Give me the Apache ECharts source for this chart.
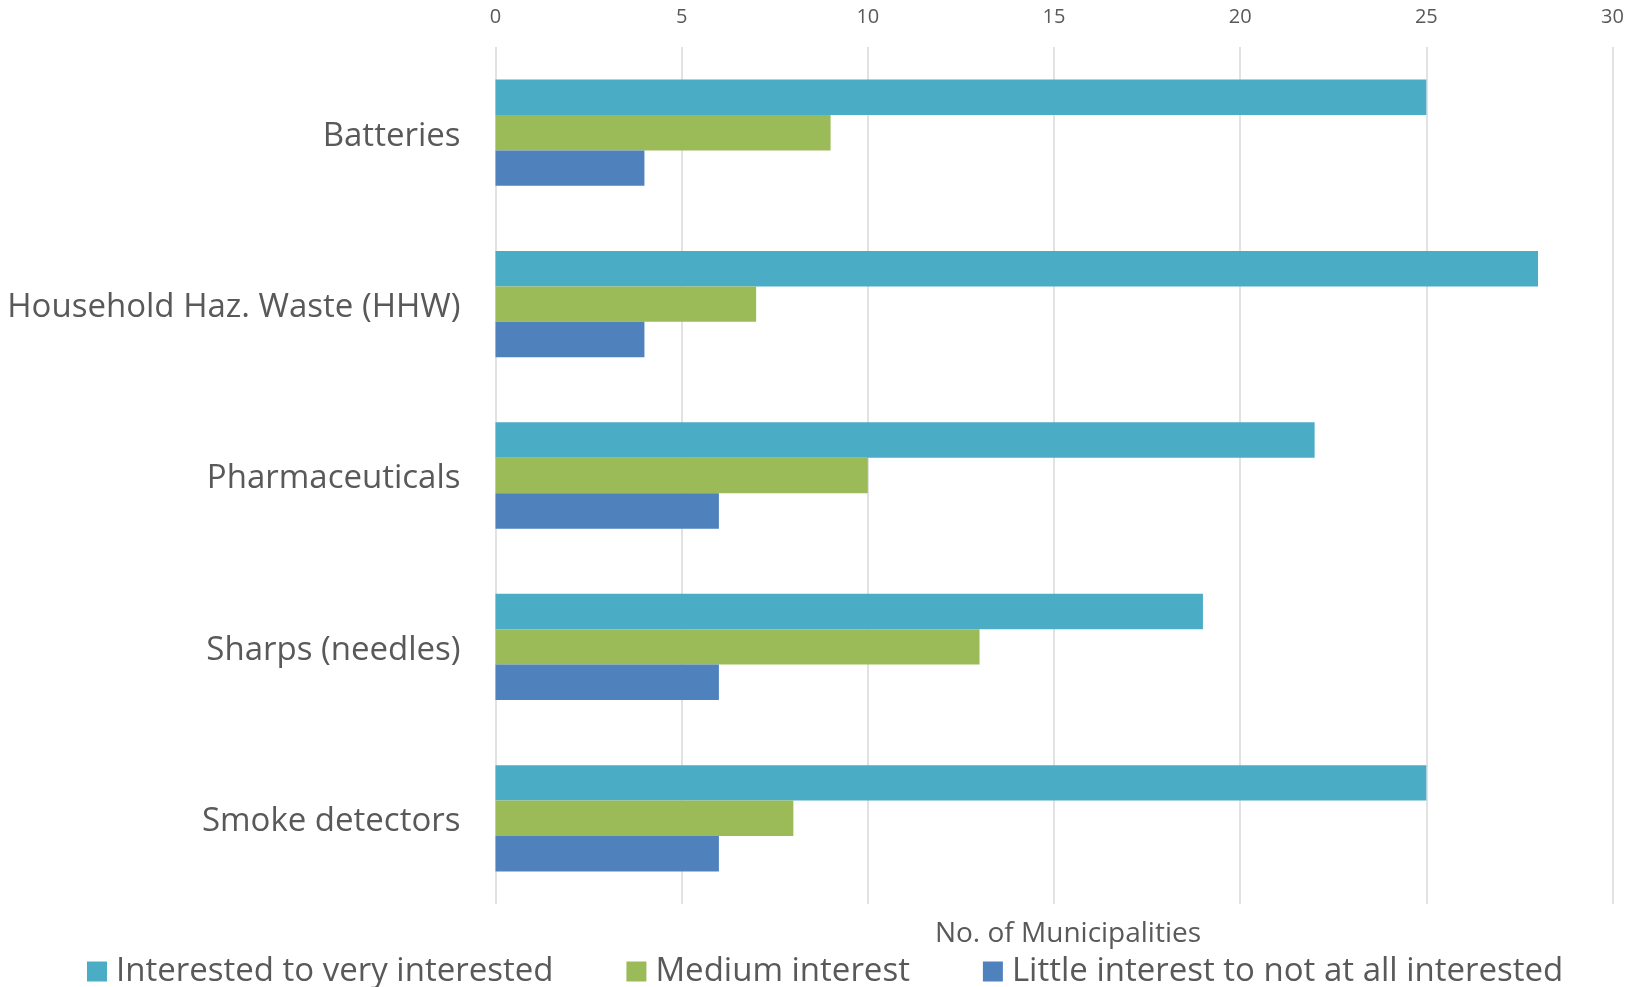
<!DOCTYPE html>
<html>
<head>
<meta charset="utf-8">
<script src="https://cdn.jsdelivr.net/npm/echarts@6/dist/echarts.min.js"></script>
<style>
  html, body { margin: 0; padding: 0; background: #ffffff; }
  #chart { width: 1639px; height: 987px; }
</style>
</head>
<body>
<div id="chart"></div>
<script>
// Waste categories (top to bottom)
const categories = ['Batteries', 'Household Haz. Waste (HHW)', 'Pharmaceuticals', 'Sharps (needles)', 'Smoke detectors'];
// Number of municipalities by interest level
const interested = [25, 28, 22, 19, 25];
const medium = [9, 7, 10, 13, 8];
const little = [4, 4, 6, 6, 6];
const seriesNames = ['Interested to very interested', 'Medium interest', 'Little interest to not at all interested'];
const axisTitle = 'No. of Municipalities';

const font = '"Open Sans", "Noto Sans", sans-serif';
const textColor = '#595959';
const colors = ['#4BACC6', '#9BBB59', '#4F81BD'];

const chart = echarts.init(document.getElementById('chart'));
chart.setOption({
  animation: false,
  textStyle: { fontFamily: font },
  color: colors,
  title: {
    text: axisTitle,
    left: 1063,
    top: 929,
    textAlign: 'center',
    textVerticalAlign: 'middle',
    textStyle: { fontFamily: font, fontSize: 28, fontWeight: 'normal', color: textColor }
  },
  legend: {
    left: 82,
    top: 950,
    itemWidth: 20,
    itemHeight: 20,
    itemGap: 73,
    icon: 'rect',
    textStyle: { fontFamily: font, fontSize: 33, color: textColor, padding: [0, 0, 0, 4] },
    data: seriesNames
  },
  grid: { left: 495.5, right: 26.5, top: 47, bottom: 83, containLabel: false },
  xAxis: {
    type: 'value',
    position: 'top',
    min: 0,
    max: 30,
    interval: 5,
    axisLine: { show: false },
    axisTick: { show: false },
    axisLabel: { color: textColor, fontSize: 20, margin: 20 },
    splitLine: { show: true, lineStyle: { color: '#d9d9d9', width: 1.5 } }
  },
  yAxis: {
    type: 'category',
    inverse: true,
    data: categories,
    axisLine: { show: false },
    axisTick: { show: false },
    axisLabel: {
      margin: 35,
      formatter: '{c|{value}}',
      rich: { c: { color: textColor, fontFamily: font, fontSize: 33, padding: [7, 0, 0, 0] } }
    }
  },
  series: [
    { name: seriesNames[0], type: 'bar', data: interested, barGap: '0%', barCategoryGap: '38%' },
    { name: seriesNames[1], type: 'bar', data: medium, barGap: '0%', barCategoryGap: '38%' },
    { name: seriesNames[2], type: 'bar', data: little, barGap: '0%', barCategoryGap: '38%' }
  ]
});
</script>
</body>
</html>
